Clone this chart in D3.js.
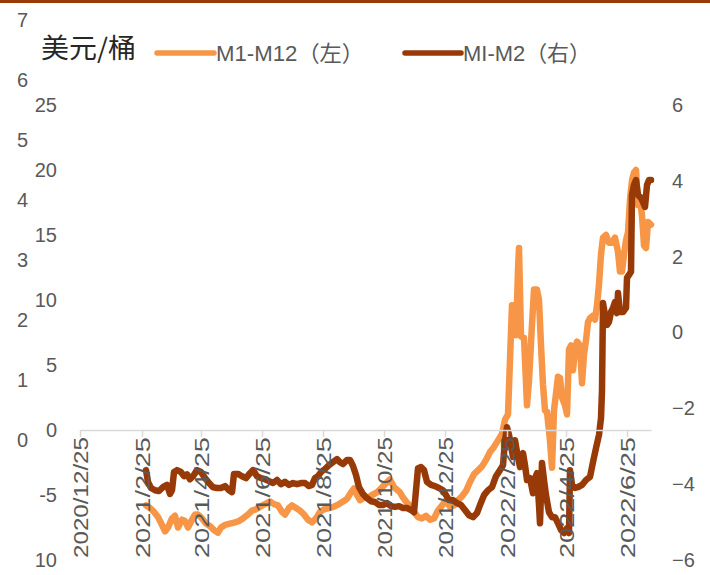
<!DOCTYPE html>
<html>
<head>
<meta charset="utf-8">
<script src="https://cdn.jsdelivr.net/npm/d3@7"></script>
<style>
  body { margin: 0; background: #fff; }
  svg { display: block; }
</style>
</head>
<body>
<script>
// M1-M12 spread (left axis) and MI-M2 spread (right axis)
const orangeDates = ['2021-03-01','2021-03-05','2021-03-09','2021-03-13','2021-03-17','2021-03-20','2021-03-23','2021-03-27','2021-03-30','2021-04-02','2021-04-06','2021-04-09','2021-04-12','2021-04-16','2021-04-19','2021-04-22','2021-04-26','2021-04-30','2021-05-04','2021-05-08','2021-05-12','2021-05-15','2021-05-19','2021-05-24','2021-05-29','2021-06-02','2021-06-06','2021-06-11','2021-06-15','2021-06-19','2021-06-23','2021-06-28','2021-07-03','2021-07-07','2021-07-11','2021-07-15','2021-07-18','2021-07-22','2021-07-25','2021-07-29','2021-08-02','2021-08-06','2021-08-10','2021-08-14','2021-08-18','2021-08-22','2021-08-26','2021-08-31','2021-09-05','2021-09-10','2021-09-14','2021-09-18','2021-09-22','2021-09-25','2021-09-28','2021-10-01','2021-10-05','2021-10-09','2021-10-13','2021-10-18','2021-10-22','2021-10-27','2021-10-31','2021-11-04','2021-11-07','2021-11-10','2021-11-13','2021-11-17','2021-11-20','2021-11-24','2021-11-28','2021-12-02','2021-12-06','2021-12-10','2021-12-14','2021-12-18','2021-12-22','2021-12-26','2021-12-30','2022-01-03','2022-01-07','2022-01-11','2022-01-15','2022-01-19','2022-01-23','2022-01-27','2022-01-31','2022-02-04','2022-02-08','2022-02-12','2022-02-16','2022-02-20','2022-02-23','2022-02-26','2022-02-28','2022-03-02','2022-03-04','2022-03-06','2022-03-08','2022-03-09','2022-03-11','2022-03-14','2022-03-17','2022-03-19','2022-03-22','2022-03-24','2022-03-27','2022-03-29','2022-03-31','2022-04-02','2022-04-04','2022-04-06','2022-04-09','2022-04-11','2022-04-13','2022-04-15','2022-04-17','2022-04-19','2022-04-21','2022-04-24','2022-04-26','2022-04-28','2022-04-30','2022-05-02','2022-05-04','2022-05-06','2022-05-09','2022-05-11','2022-05-13','2022-05-15','2022-05-17','2022-05-19','2022-05-22','2022-05-24','2022-05-26','2022-05-28','2022-05-30','2022-06-01','2022-06-04','2022-06-07','2022-06-10','2022-06-13','2022-06-16','2022-06-18','2022-06-20','2022-06-22','2022-06-24','2022-06-26','2022-06-28','2022-06-30','2022-07-02','2022-07-04','2022-07-06','2022-07-08','2022-07-10','2022-07-12','2022-07-14','2022-07-16','2022-07-19'];
const orangeValues = [-5.8,-6.0,-6.3,-6.7,-7.3,-7.8,-7.5,-6.8,-6.6,-7.5,-6.9,-7.0,-7.5,-6.9,-6.5,-6.5,-6.8,-7.2,-7.4,-7.7,-7.9,-7.5,-7.3,-7.2,-7.1,-7.0,-6.8,-6.5,-6.2,-6.1,-5.9,-5.7,-5.5,-5.7,-5.8,-6.3,-6.5,-6.0,-5.8,-6.0,-6.2,-6.5,-6.9,-7.1,-6.8,-6.3,-6.1,-6.0,-5.9,-5.7,-5.5,-5.3,-4.8,-4.5,-5.0,-5.4,-5.2,-5.2,-5.0,-4.8,-4.5,-4.1,-3.8,-4.4,-4.6,-4.8,-5.2,-5.6,-5.8,-6.3,-6.7,-6.8,-6.6,-6.9,-6.8,-6.2,-5.8,-5.4,-5.9,-5.8,-5.4,-5.1,-4.7,-4.0,-3.4,-3.1,-2.8,-2.3,-1.7,-1.3,-0.8,-0.3,0.8,1.2,5.4,9.6,7.7,7.3,12.3,14.0,7.2,7.1,1.9,3.8,8.1,10.8,10.8,10.0,6.5,3.5,1.5,1.4,-0.8,-2.9,1.5,2.8,4.1,4.0,2.5,1.9,1.2,6.2,6.5,4.6,6.2,6.8,6.5,3.6,5.8,6.9,8.3,8.6,8.8,8.5,9.6,11.2,13.5,14.8,15.0,14.4,14.4,14.8,13.7,12.2,12.2,13.5,14.6,15.2,17.7,19.2,19.8,20.0,17.3,17.7,16.5,14.2,14.0,16.0,15.8];

const brownDates = ['2021-03-01','2021-03-03','2021-03-06','2021-03-10','2021-03-14','2021-03-18','2021-03-22','2021-03-25','2021-03-27','2021-03-29','2021-04-01','2021-04-05','2021-04-08','2021-04-11','2021-04-14','2021-04-17','2021-04-21','2021-04-25','2021-04-29','2021-05-03','2021-05-07','2021-05-11','2021-05-15','2021-05-19','2021-05-23','2021-05-26','2021-05-28','2021-06-01','2021-06-05','2021-06-09','2021-06-13','2021-06-16','2021-06-20','2021-06-24','2021-06-28','2021-07-02','2021-07-06','2021-07-10','2021-07-14','2021-07-18','2021-07-22','2021-07-26','2021-07-30','2021-08-03','2021-08-07','2021-08-11','2021-08-14','2021-08-17','2021-08-20','2021-08-23','2021-08-27','2021-08-31','2021-09-04','2021-09-08','2021-09-11','2021-09-14','2021-09-18','2021-09-21','2021-09-24','2021-09-27','2021-09-30','2021-10-04','2021-10-08','2021-10-12','2021-10-16','2021-10-20','2021-10-24','2021-10-28','2021-11-01','2021-11-05','2021-11-09','2021-11-13','2021-11-17','2021-11-21','2021-11-24','2021-11-26','2021-11-28','2021-12-01','2021-12-04','2021-12-07','2021-12-11','2021-12-15','2021-12-19','2021-12-23','2021-12-26','2021-12-29','2022-01-02','2022-01-06','2022-01-10','2022-01-14','2022-01-18','2022-01-22','2022-01-26','2022-01-29','2022-02-02','2022-02-06','2022-02-10','2022-02-14','2022-02-18','2022-02-21','2022-02-23','2022-02-25','2022-02-27','2022-03-01','2022-03-03','2022-03-05','2022-03-07','2022-03-10','2022-03-13','2022-03-15','2022-03-17','2022-03-20','2022-03-23','2022-03-25','2022-03-27','2022-03-29','2022-03-30','2022-04-01','2022-04-03','2022-04-05','2022-04-08','2022-04-11','2022-04-14','2022-04-17','2022-04-20','2022-04-23','2022-04-26','2022-04-28','2022-04-29','2022-05-01','2022-05-04','2022-05-07','2022-05-11','2022-05-15','2022-05-19','2022-05-22','2022-05-25','2022-05-28','2022-05-30','2022-05-31','2022-06-01','2022-06-03','2022-06-05','2022-06-07','2022-06-09','2022-06-11','2022-06-13','2022-06-15','2022-06-16','2022-06-18','2022-06-21','2022-06-24','2022-06-25','2022-06-27','2022-06-29','2022-06-30','2022-07-02','2022-07-04','2022-07-06','2022-07-09','2022-07-11','2022-07-13','2022-07-15','2022-07-17','2022-07-19'];
const brownValues = [-3.63,-3.94,-4.10,-4.16,-4.18,-4.08,-4.02,-4.26,-4.16,-3.68,-3.63,-3.68,-3.79,-3.74,-3.87,-3.79,-3.63,-3.68,-3.84,-3.97,-4.08,-4.10,-4.10,-4.05,-4.16,-4.21,-3.73,-3.73,-3.79,-3.84,-3.71,-3.63,-3.79,-3.84,-3.87,-3.92,-3.97,-3.89,-4.00,-3.94,-4.02,-3.97,-4.00,-3.97,-3.97,-4.05,-4.02,-3.84,-3.79,-3.68,-3.60,-3.50,-3.42,-3.34,-3.42,-3.47,-3.36,-3.36,-3.52,-3.76,-4.08,-4.26,-4.37,-4.45,-4.47,-4.55,-4.55,-4.50,-4.58,-4.60,-4.58,-4.63,-4.63,-4.68,-4.74,-4.16,-3.58,-3.55,-3.63,-3.94,-4.02,-4.05,-4.10,-4.16,-4.29,-4.42,-4.42,-4.50,-4.55,-4.68,-4.82,-4.87,-4.76,-4.55,-4.29,-4.16,-4.08,-3.79,-3.63,-3.50,-2.84,-2.50,-2.70,-2.97,-3.28,-2.84,-3.15,-3.55,-3.18,-3.50,-3.89,-3.84,-4.24,-3.84,-3.71,-4.55,-5.03,-3.44,-3.89,-4.29,-4.74,-4.87,-4.87,-5.03,-5.21,-5.29,-5.16,-5.29,-3.63,-4.02,-4.10,-4.08,-4.02,-3.89,-3.81,-3.42,-3.05,-2.70,-2.26,-1.52,0.78,0.46,0.20,0.28,0.54,0.65,0.80,0.51,1.04,0.54,0.54,0.65,1.44,1.52,1.60,3.63,3.89,4.02,3.63,3.55,3.44,3.31,3.89,4.02,4.02];

const xTicks = ['2020-12-25','2021-02-25','2021-04-25','2021-06-25','2021-08-25','2021-10-25','2021-12-25','2022-02-25','2022-04-25','2022-06-25'];
const leftTicks = [25, 20, 15, 10, 5, 0, -5, -10];
const leftTickLabels = ['25', '20', '15', '10', '5', '0', '-5', '10'];
const extraTicks = [7, 6, 5, 4, 3, 2, 1, 0];
const rightTicks = [6, 4, 2, 0, -2, -4, -6];
const seriesNames = ['M1-M12（左）', 'MI-M2（右）'];
const unitLabel = '美元/桶';

const width = 710;
const height = 575;
const orange = '#f79646';
const brown = '#983a08';
const grey = '#595959';
const font = "'Liberation Sans', 'Noto Sans CJK SC', sans-serif";

const parseDate = d3.timeParse('%Y-%m-%d');
const formatTick = d3.timeFormat('%Y/%-m/%-d');

const x = d3.scaleTime()
  .domain([parseDate('2020-12-25'), parseDate('2022-07-19')])
  .range([80, 651]);
const yLeft = d3.scaleLinear().domain([-10, 25]).range([560, 105]);
const yRight = d3.scaleLinear().domain([-6, 6]).range([560, 105]);
const yExtra = d3.scaleLinear().domain([0, 7]).range([440, 20]);

const svg = d3.select('body')
  .append('svg')
  .attr('width', width)
  .attr('height', height)
  .style('font-family', font);

svg.append('rect')
  .attr('x', 0).attr('y', 0)
  .attr('width', width).attr('height', 3)
  .attr('fill', brown);

// lines
const orangeData = orangeDates.map((d, i) => ({ date: parseDate(d), value: orangeValues[i] }));
const brownData = brownDates.map((d, i) => ({ date: parseDate(d), value: brownValues[i] }));

const lineLeft = d3.line()
  .x(d => x(d.date))
  .y(d => yLeft(d.value));
const lineRight = d3.line()
  .x(d => x(d.date))
  .y(d => yRight(d.value));

svg.append('path')
  .attr('d', lineLeft(orangeData))
  .attr('fill', 'none')
  .attr('stroke', orange)
  .attr('stroke-width', 6.5)
  .attr('stroke-linejoin', 'round')
  .attr('stroke-linecap', 'round');

svg.append('path')
  .attr('d', lineRight(brownData))
  .attr('fill', 'none')
  .attr('stroke', brown)
  .attr('stroke-width', 6.5)
  .attr('stroke-linejoin', 'round')
  .attr('stroke-linecap', 'round');

// x axis at left-axis zero
const xAxis = d3.axisBottom(x)
  .tickValues(xTicks.map(parseDate))
  .tickSize(7)
  .tickSizeOuter(0)
  .tickFormat(formatTick);

const gx = svg.append('g')
  .attr('transform', 'translate(0,' + yLeft(0) + ')')
  .call(xAxis);
gx.select('.domain').attr('stroke', '#d9d9d9').attr('stroke-width', 1.5);
gx.selectAll('.tick line').attr('stroke', '#d9d9d9').attr('stroke-width', 1.5);
gx.selectAll('.tick text')
  .attr('fill', grey)
  .style('font-family', font)
  .style('font-size', '19.5px')
  .attr('text-anchor', 'end')
  .attr('transform', 'rotate(-90)')
  .attr('x', -7)
  .attr('y', 0)
  .attr('dy', '0.4em')
  .attr('textLength', 121)
  .attr('lengthAdjust', 'spacingAndGlyphs');

// left axis (two sets of labels)
const yAxisLeft = d3.axisLeft(yLeft)
  .tickValues(leftTicks)
  .tickSize(0)
  .tickFormat((d, i) => leftTickLabels[i]);
const gl = svg.append('g')
  .attr('transform', 'translate(57,0)')
  .call(yAxisLeft);
gl.select('.domain').remove();
gl.selectAll('.tick text')
  .attr('x', 0)
  .attr('fill', grey)
  .style('font-family', font)
  .style('font-size', '20px');

const yAxisExtra = d3.axisLeft(yExtra)
  .tickValues(extraTicks)
  .tickSize(0)
  .tickFormat(d3.format('d'));
const ge = svg.append('g')
  .attr('transform', 'translate(28,0)')
  .call(yAxisExtra);
ge.select('.domain').remove();
ge.selectAll('.tick text')
  .attr('x', 0)
  .attr('fill', grey)
  .style('font-family', font)
  .style('font-size', '20px');

// right axis
const yAxisRight = d3.axisRight(yRight)
  .tickValues(rightTicks)
  .tickSize(0)
  .tickFormat(d3.format('d'));
const gr = svg.append('g')
  .attr('transform', 'translate(672,0)')
  .call(yAxisRight);
gr.select('.domain').remove();
gr.selectAll('.tick text')
  .attr('x', 0)
  .attr('fill', grey)
  .style('font-family', font)
  .style('font-size', '20px');

// unit label
svg.append('text')
  .attr('x', 41)
  .attr('y', 58)
  .attr('fill', '#262626')
  .style('font-family', "'Noto Sans CJK SC', sans-serif")
  .style('font-size', '27px')
  .attr('textLength', 95)
  .attr('lengthAdjust', 'spacingAndGlyphs')
  .text(unitLabel);

// legend
const legendItems = [
  { name: seriesNames[0], color: orange, x0: 157, x1: 214, tx: 216, tw: 148 },
  { name: seriesNames[1], color: brown, x0: 405, x1: 461, tx: 463, tw: 128 },
];
const legend = svg.append('g');
legend.selectAll('line')
  .data(legendItems)
  .join('line')
  .attr('x1', d => d.x0)
  .attr('x2', d => d.x1)
  .attr('y1', 53)
  .attr('y2', 53)
  .attr('stroke', d => d.color)
  .attr('stroke-width', 5.5)
  .attr('stroke-linecap', 'round');
legend.selectAll('text')
  .data(legendItems)
  .join('text')
  .attr('x', d => d.tx)
  .attr('y', 61)
  .attr('fill', grey)
  .style('font-size', '22px')
  .attr('textLength', d => d.tw)
  .attr('lengthAdjust', 'spacingAndGlyphs')
  .text(d => d.name);
</script>
</body>
</html>
